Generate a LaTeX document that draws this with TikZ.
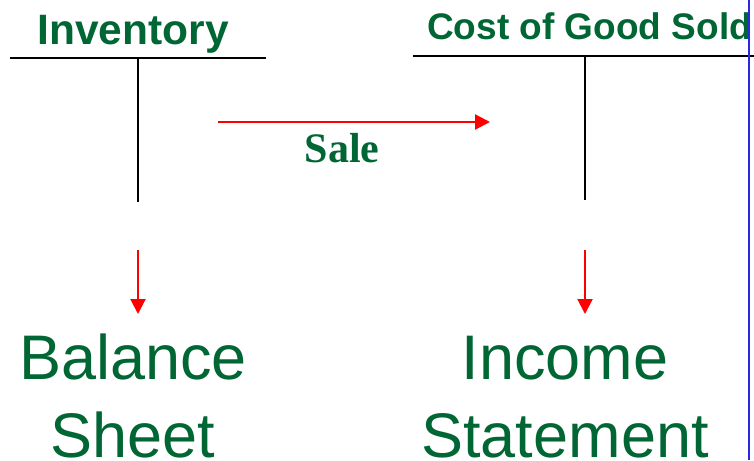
\documentclass[tikz,border=0pt]{standalone}
\usepackage{fontspec}
\setmainfont{Liberation Sans}
\newfontfamily\salefont{Liberation Serif}
\usetikzlibrary{arrows.meta}
\definecolor{acctgreen}{RGB}{0,102,51}
\definecolor{edgeblue}{RGB}{40,40,230}

\begin{document}
\begin{tikzpicture}[
  x=1pt, y=-1pt,
  account/.style={font=\fontsize{37}{44}\selectfont\bfseries, text=acctgreen, inner sep=0pt},
  statement/.style={font=\fontsize{63}{78}\selectfont, text=acctgreen, align=center, inner sep=0pt},
  tline/.style={draw, line width=2pt},
  flow/.style={draw=red, line width=2.2pt, -{Triangle[length=15pt,width=15pt]}}
]
\useasboundingbox (0,0) rectangle (754,460);

% T-accounts
\node[account, font=\fontsize{42.5}{50}\selectfont\bfseries, anchor=base] (inv) at (133,45) {Inventory};
\node[account, anchor=base west] (cogs) at (427,40) {Cost of Good Sold};
\coordinate (invL) at (10,58);
\coordinate (invR) at (266,58);
\coordinate (invT) at (138,58);
\coordinate (invB) at (138,202);
\coordinate (cogsL) at (413,56);
\coordinate (cogsR) at (754,56);
\coordinate (cogsT) at (585,56);
\coordinate (cogsB) at (585,200);
\draw[tline] (invL) -- (invR);
\draw[tline] (invT) -- (invB);
\draw[tline] (cogsL) -- (cogsR);
\draw[tline] (cogsT) -- (cogsB);

% sale
\coordinate (saleA) at (218,122);
\coordinate (saleB) at (490,122);
\draw[flow] (saleA) -- (saleB);
\node[font=\salefont\fontsize{42}{50}\selectfont\bfseries, text=acctgreen, anchor=base, inner sep=0pt] (sale) at (342,162) {Sale};

% statements
\node[statement, anchor=base] (bs) at (133,457) {Balance\\Sheet};
\node[statement, anchor=base] (is) at (565,457) {Income\\Statement};
\coordinate (bsA) at (138,250);
\coordinate (bsB) at (138,314);
\coordinate (isA) at (585,250);
\coordinate (isB) at (585,314);
\draw[flow] (bsA) -- (bsB);
\draw[flow] (isA) -- (isB);

% page edge
\coordinate (edgeT) at (749,0);
\coordinate (edgeB) at (749,460);
\draw[edgeblue, line width=2pt] (edgeT) -- (edgeB);
\end{tikzpicture}
\end{document}
